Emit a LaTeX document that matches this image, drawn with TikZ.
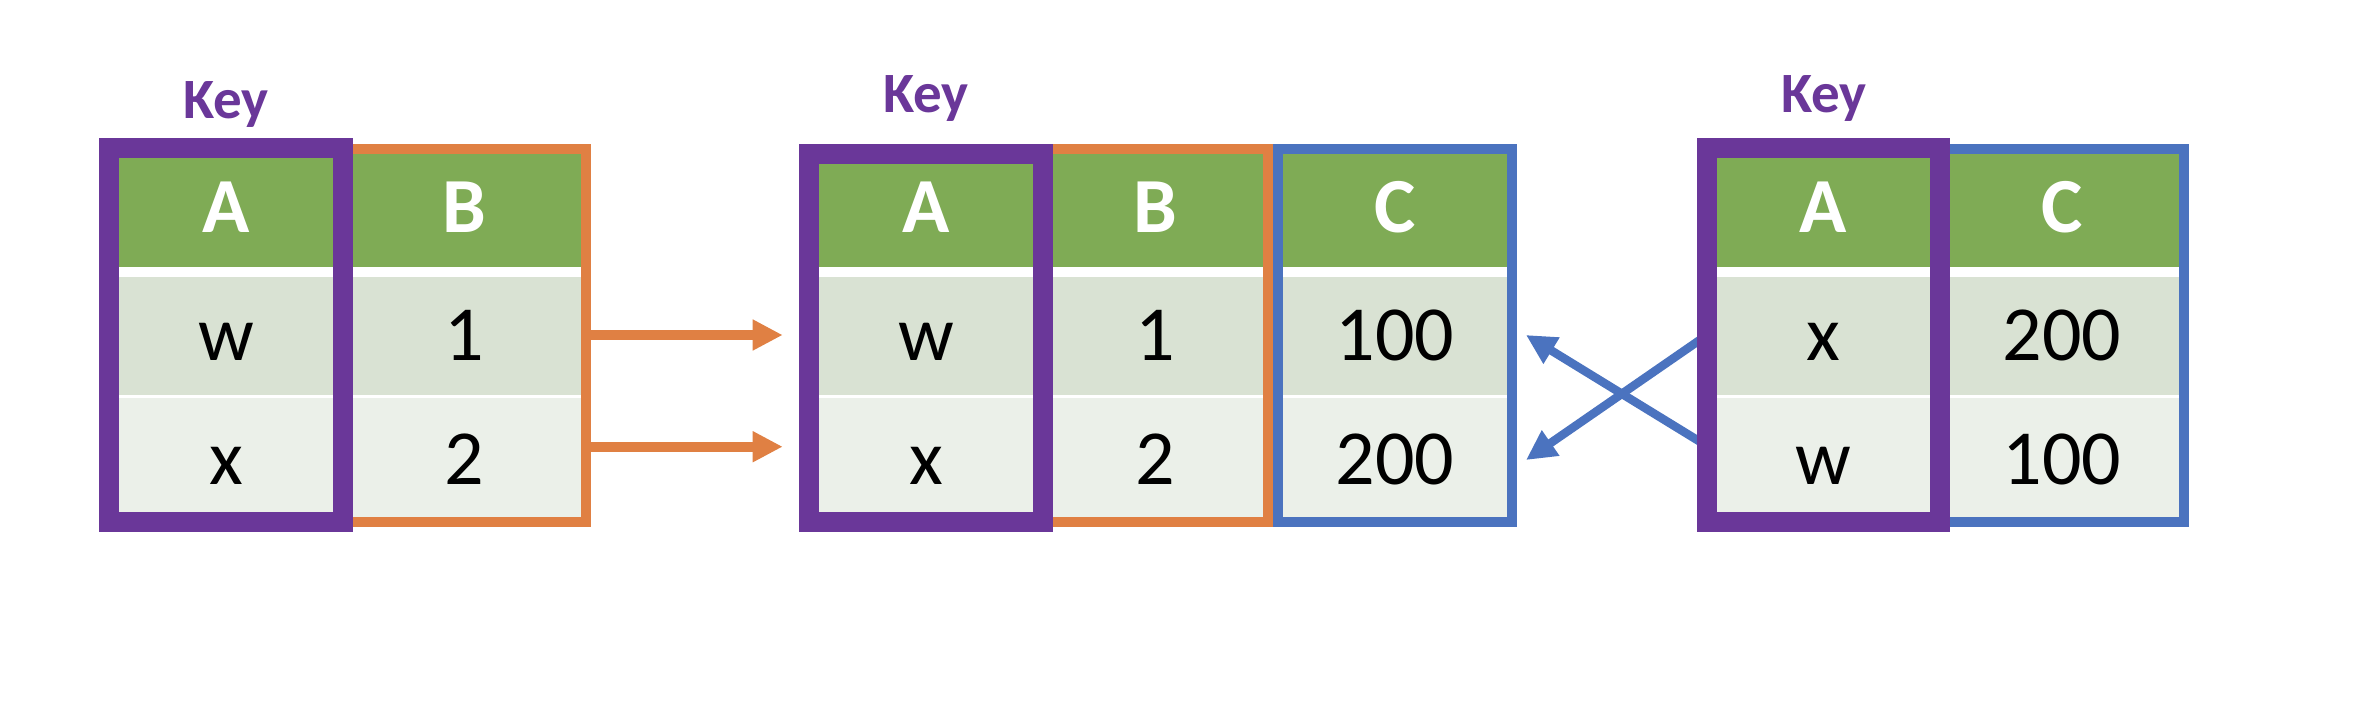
\documentclass[tikz,border=0pt]{standalone}
\usepackage{fontspec}
\setmainfont{Carlito}
\usetikzlibrary{arrows.meta}

\definecolor{keypurple}{HTML}{6A3799}
\definecolor{colorange}{HTML}{E08043}
\definecolor{colblue}{HTML}{4B73BF}
\definecolor{headgreen}{HTML}{7FAB55}
\definecolor{rowgreen}{HTML}{D9E2D3}
\definecolor{rowpale}{HTML}{EBF0E9}

\newcommand{\cellfont}{\fontsize{39}{39}\selectfont}
\newcommand{\keyfont}{\fontsize{28.5}{28.5}\selectfont\bfseries}

\tikzset{
  basecell/.style={rectangle, inner sep=0pt, text height=24.5pt, text depth=0pt, font=\cellfont, minimum width=#1},
  headcell/.style={basecell=#1, fill=headgreen, text=white, font=\cellfont\bfseries, minimum height=58.85pt},
  onecell/.style={basecell=#1, fill=rowgreen, minimum height=59.15pt},
  twocell/.style={basecell=#1, fill=rowpale, minimum height=61.85pt},
  keylabel/.style={anchor=base, text=keypurple, font=\keyfont},
  keybox/.style={draw=keypurple, line width=10pt},
  obox/.style={draw=colorange, line width=5pt},
  bbox/.style={draw=colblue, line width=5pt},
  oarrow/.style={draw=colorange, line width=5pt, -{Triangle[length=15pt, width=14.5pt]}},
  barrow/.style={draw=colblue, line width=4.25pt, -{Triangle[length=15pt, width=14.5pt]}}
}

\begin{document}
\begin{tikzpicture}[x=0.5pt, y=-0.5pt]
  \fill[white] (0,0) rectangle (2358,720);
  \useasboundingbox (0,0) rectangle (2358,720);

  % Left table
  \node[keylabel] (key1) at (226,118) {Key};
  \node[headcell=117pt] (t1a0) at (226,207.85) {A};
  \node[headcell=121.5pt] (t1b0) at (464.5,207.85) {B};
  \node[onecell=117pt] (t1a1) at (226,335.85) {w};
  \node[onecell=121.5pt] (t1b1) at (464.5,335.85) {1};
  \node[twocell=117pt] (t1a2) at (226,460.15) {x};
  \node[twocell=121.5pt] (t1b2) at (464.5,460.15) {2};

  % Middle table
  \node[keylabel] (key2) at (926,112) {Key};
  \node[headcell=117pt] (t2a0) at (926,207.85) {A};
  \node[headcell=112.5pt] (t2b0) at (1155.5,207.85) {B};
  \node[headcell=117pt] (t2c0) at (1395,207.85) {C};
  \node[onecell=117pt] (t2a1) at (926,335.85) {w};
  \node[onecell=112.5pt] (t2b1) at (1155.5,335.85) {1};
  \node[onecell=117pt] (t2c1) at (1395,335.85) {100};
  \node[twocell=117pt] (t2a2) at (926,460.15) {x};
  \node[twocell=112.5pt] (t2b2) at (1155.5,460.15) {2};
  \node[twocell=117pt] (t2c2) at (1395,460.15) {200};

  % Right table
  \node[keylabel] (key3) at (1824,112) {Key};
  \node[headcell=116.5pt] (t3a0) at (1823.5,207.85) {A};
  \node[headcell=122pt] (t3c0) at (2062,207.85) {C};
  \node[onecell=116.5pt] (t3a1) at (1823.5,335.85) {x};
  \node[onecell=122pt] (t3c1) at (2062,335.85) {200};
  \node[twocell=116.5pt] (t3a2) at (1823.5,460.15) {w};
  \node[twocell=122pt] (t3c2) at (2062,460.15) {100};

  % arrow ends
  \coordinate (os1) at (586,335);
  \coordinate (oe1) at (782.7,335);
  \coordinate (os2) at (586,446.7);
  \coordinate (oe2) at (782.7,446.7);
  \coordinate (bs1) at (1707,335);
  \coordinate (be1) at (1526,460);
  \coordinate (bs2) at (1707,446);
  \coordinate (be2) at (1526,335);

  \draw[oarrow] (os1) -- (oe1);
  \draw[oarrow] (os2) -- (oe2);
  \draw[barrow] (bs1) -- (be1);
  \draw[barrow] (bs2) -- (be2);

  % column frames
  \draw[obox] (t1b0.north west) rectangle (t1b2.south east);
  \draw[keybox] ([yshift=0.5pt]t1a0.north west) rectangle (t1a2.south east);

  \draw[obox] (t2b0.north west) rectangle (t2b2.south east);
  \draw[bbox] (t2c0.north west) rectangle (t2c2.south east);
  \draw[keybox] ([yshift=-2.5pt]t2a0.north west) rectangle (t2a2.south east);

  \draw[bbox] (t3c0.north west) rectangle (t3c2.south east);
  \draw[keybox] ([yshift=0.5pt]t3a0.north west) rectangle (t3a2.south east);
\end{tikzpicture}
\end{document}
